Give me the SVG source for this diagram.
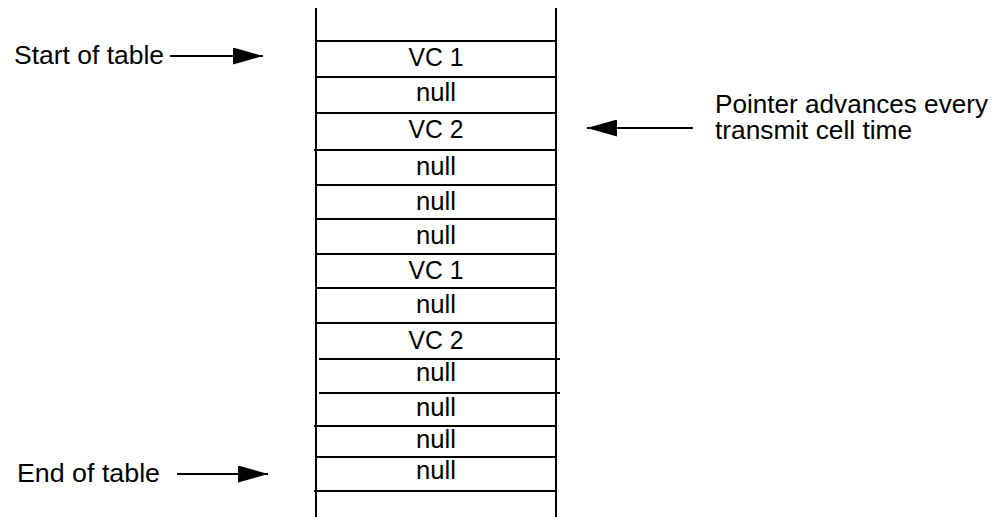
<svg xmlns="http://www.w3.org/2000/svg" width="1002" height="517" viewBox="0 0 1002 517">
  <style>
    .ln { stroke: #000; stroke-width: 2; fill: none; }
    .t { font-family: "Liberation Sans", Arial, sans-serif; font-size: 25px; fill: #000; }
    .c { text-anchor: middle; }
  </style>
  <defs>
    <marker id="ah" markerUnits="userSpaceOnUse" markerWidth="30" markerHeight="17" refX="30" refY="8.5" orient="auto">
      <path d="M0,0 L30,8.5 L0,17 z" fill="#000"/>
    </marker>
  </defs>
  <rect width="1002" height="517" fill="#fff"/>
  <g id="table">
    <line class="ln" x1="316" y1="8" x2="316" y2="517"/>
    <line class="ln" x1="556" y1="8" x2="556" y2="517"/>
    <line class="ln" x1="316" y1="41" x2="557" y2="41"/>
    <line class="ln" x1="316" y1="77" x2="557" y2="77"/>
    <line class="ln" x1="316" y1="113" x2="557" y2="113"/>
    <line class="ln" x1="314" y1="150" x2="556" y2="150"/>
    <line class="ln" x1="316" y1="185" x2="557" y2="185"/>
    <line class="ln" x1="316" y1="219" x2="557" y2="219"/>
    <line class="ln" x1="316" y1="254" x2="557" y2="254"/>
    <line class="ln" x1="316" y1="288" x2="557" y2="288"/>
    <line class="ln" x1="316" y1="323" x2="557" y2="323"/>
    <line class="ln" x1="319" y1="359" x2="560" y2="359"/>
    <line class="ln" x1="319" y1="393" x2="560" y2="393"/>
    <line class="ln" x1="314" y1="426" x2="556" y2="426"/>
    <line class="ln" x1="316" y1="457" x2="557" y2="457"/>
    <line class="ln" x1="314" y1="491" x2="556" y2="491"/>
  </g>
  <g id="row1"><text class="t c" x="436" y="66" textLength="55" lengthAdjust="spacingAndGlyphs">VC 1</text></g>
  <g id="row2"><text class="t c" x="436" y="101" textLength="40" lengthAdjust="spacingAndGlyphs">null</text></g>
  <g id="row3"><text class="t c" x="436" y="138" textLength="55" lengthAdjust="spacingAndGlyphs">VC 2</text></g>
  <g id="row4"><text class="t c" x="436" y="175" textLength="40" lengthAdjust="spacingAndGlyphs">null</text></g>
  <g id="row5"><text class="t c" x="436" y="210" textLength="40" lengthAdjust="spacingAndGlyphs">null</text></g>
  <g id="row6"><text class="t c" x="436" y="244" textLength="40" lengthAdjust="spacingAndGlyphs">null</text></g>
  <g id="row7"><text class="t c" x="436" y="279" textLength="55" lengthAdjust="spacingAndGlyphs">VC 1</text></g>
  <g id="row8"><text class="t c" x="436" y="313" textLength="40" lengthAdjust="spacingAndGlyphs">null</text></g>
  <g id="row9"><text class="t c" x="436" y="349" textLength="55" lengthAdjust="spacingAndGlyphs">VC 2</text></g>
  <g id="row10"><text class="t c" x="436" y="381" textLength="40" lengthAdjust="spacingAndGlyphs">null</text></g>
  <g id="row11"><text class="t c" x="436" y="416" textLength="40" lengthAdjust="spacingAndGlyphs">null</text></g>
  <g id="row12"><text class="t c" x="436" y="448" textLength="40" lengthAdjust="spacingAndGlyphs">null</text></g>
  <g id="row13"><text class="t c" x="436" y="479" textLength="40" lengthAdjust="spacingAndGlyphs">null</text></g>
  <g id="start-label"><text class="t" x="14" y="64" textLength="150" lengthAdjust="spacingAndGlyphs">Start of table</text></g>
  <g id="end-label"><text class="t" x="17" y="482" textLength="143" lengthAdjust="spacingAndGlyphs">End of table</text></g>
  <g id="pointer-label">
    <text class="t" x="715" y="113" textLength="273" lengthAdjust="spacingAndGlyphs">Pointer advances every</text>
    <text class="t" x="715" y="139" textLength="197" lengthAdjust="spacingAndGlyphs">transmit cell time</text>
  </g>
  <g id="connectors">
    <line class="ln" x1="170" y1="56" x2="263" y2="56" marker-end="url(#ah)"/>
    <line class="ln" x1="177" y1="474" x2="268" y2="474" marker-end="url(#ah)"/>
    <line class="ln" x1="693" y1="128" x2="587" y2="128" marker-end="url(#ah)"/>
  </g>
</svg>
